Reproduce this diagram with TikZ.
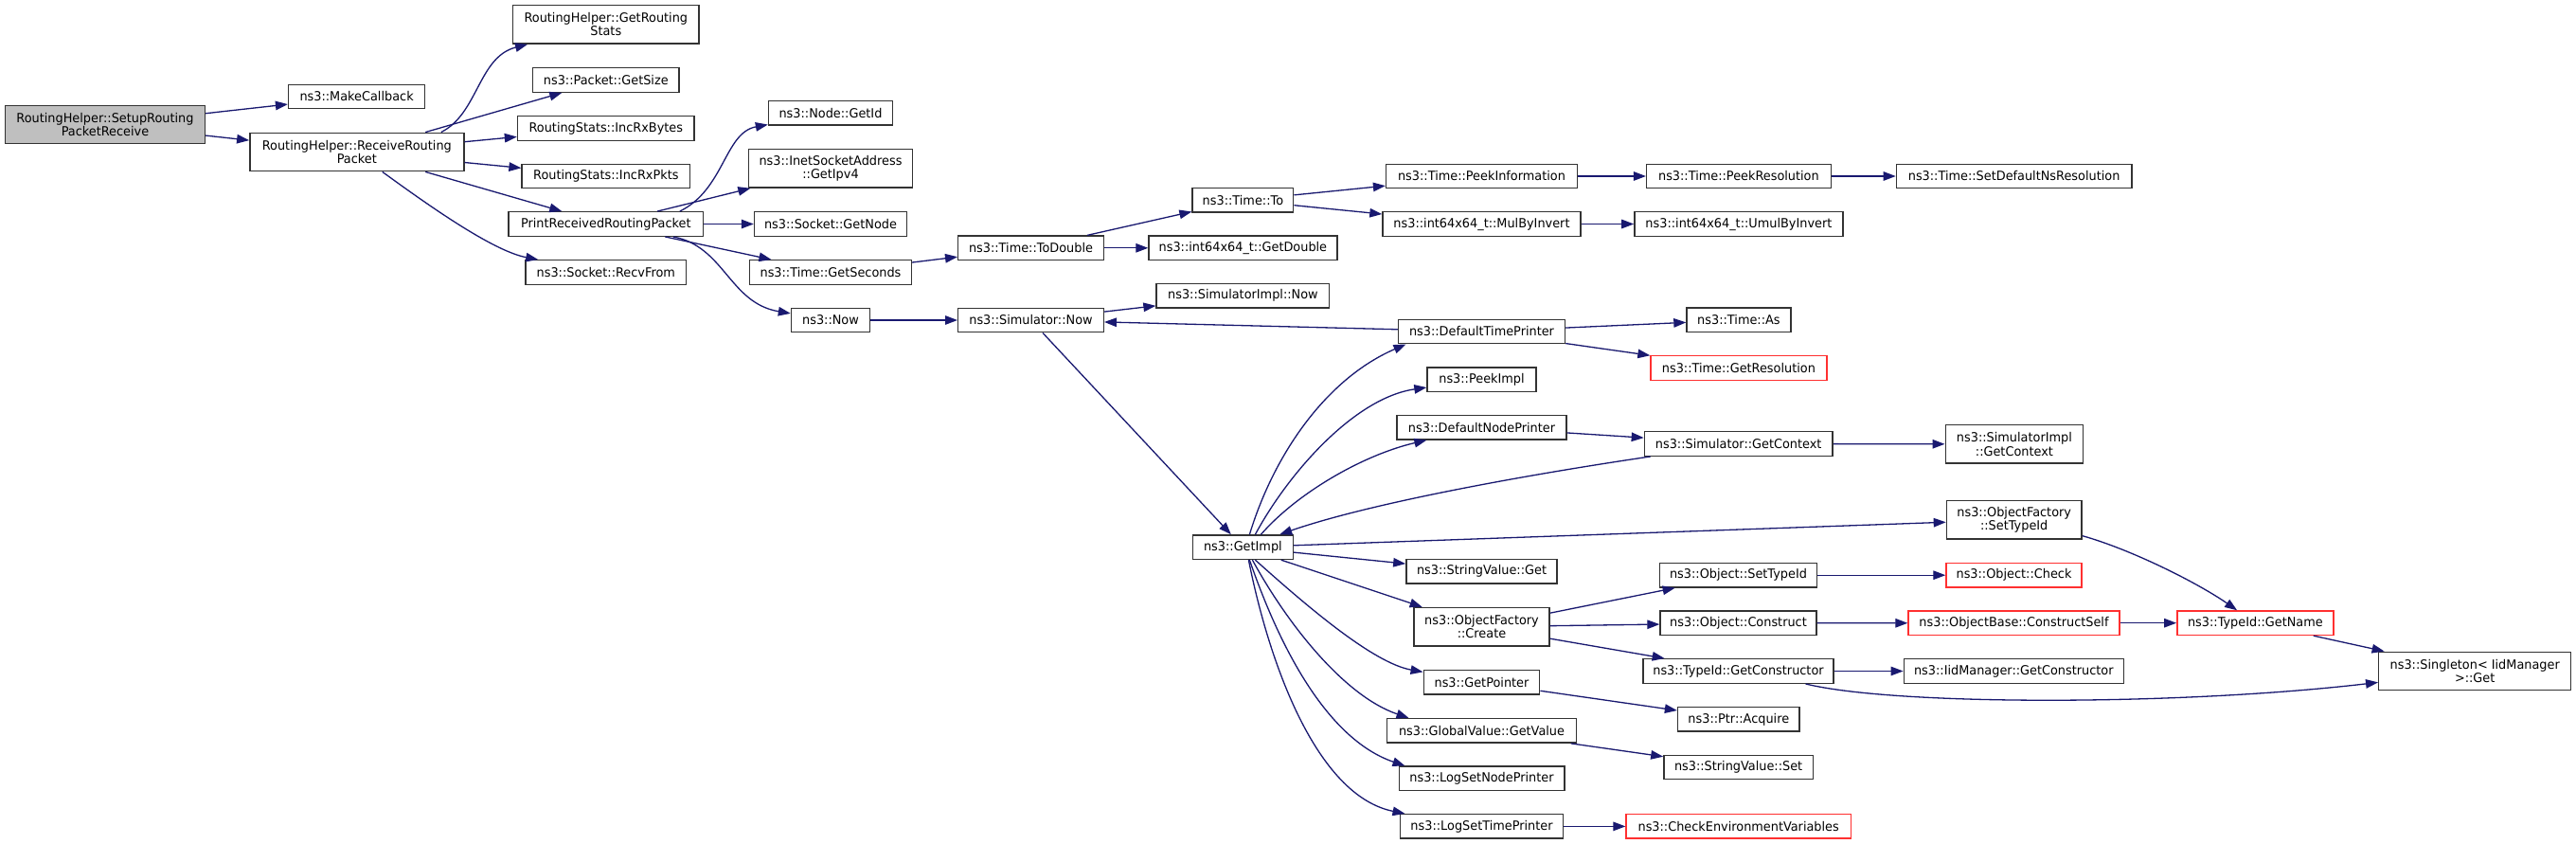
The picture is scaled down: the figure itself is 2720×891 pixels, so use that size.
\documentclass[tikz,border=0pt]{standalone}
\usepackage{fontspec}
\usetikzlibrary{arrows.meta}
\newfontfamily\fnfont{DejaVu Sans}[FakeStretch=0.96]
\definecolor{FigNavy}{HTML}{191970}
\definecolor{FigRed}{HTML}{FF3030}
\definecolor{FigGray}{HTML}{BFBFBF}
\definecolor{FigLine}{HTML}{333333}
\begin{document}
\begin{tikzpicture}[x=1pt,y=-1pt,
  fn/.style={draw=FigLine,line width=1.4pt,fill=white,inner sep=0pt,minimum height=25.5pt,align=center,font=\fnfont\fontsize{13.4}{14.2}\selectfont},
  two/.style={minimum height=40.5pt},root/.style={fill=FigGray},miss/.style={draw=FigRed},
  call/.style={draw=FigNavy,line width=1.3pt,-{Triangle[length=13pt,width=9.5pt]}}]
  \fill[white] (0,0) rectangle (2720,891);\useasboundingbox (0,0) rectangle (2720,891);
  \node[fn,root,two,minimum width=211pt] (setup) at (111,131.5) {RoutingHelper::SetupRouting\\PacketReceive};
  \node[fn,minimum width=144pt] (mkcb) at (376.6,102) {ns3::MakeCallback};
  \node[fn,two,minimum width=226pt] (recv) at (376.8,160.5) {RoutingHelper::ReceiveRouting\\Packet};
  \node[fn,two,minimum width=196.5pt] (stats) at (639.8,25.9) {RoutingHelper::GetRouting\\Stats};
  \node[fn,minimum width=154.5pt] (size) at (639.8,84.5) {ns3::Packet::GetSize};
  \node[fn,minimum width=186.6pt] (bytes) at (639.8,135.5) {RoutingStats::IncRxBytes};
  \node[fn,minimum width=177.4pt] (pkts) at (639.8,186) {RoutingStats::IncRxPkts};
  \node[fn,minimum width=205.5pt] (print) at (639.8,236.5) {PrintReceivedRoutingPacket};
  \node[fn,minimum width=169.6pt] (recvfrom) at (639.8,287.5) {ns3::Socket::RecvFrom};
  \node[fn,minimum width=131pt] (nodeid) at (877,119.3) {ns3::Node::GetId};
  \node[fn,two,minimum width=173pt] (ipv4) at (877,177.8) {ns3::InetSocketAddress\\::GetIpv4};
  \node[fn,minimum width=161pt] (getnode) at (877,236.5) {ns3::Socket::GetNode};
  \node[fn,minimum width=170.6pt] (getsec) at (877,287.5) {ns3::Time::GetSeconds};
  \node[fn,minimum width=83pt] (now) at (877,338) {ns3::Now};
  \node[fn,minimum width=153.6pt] (todouble) at (1088.5,261.8) {ns3::Time::ToDouble};
  \node[fn,minimum width=153.6pt] (simnow) at (1088.5,338) {ns3::Simulator::Now};
  \node[fn,minimum width=106.7pt] (timeto) at (1312.4,211.3) {ns3::Time::To};
  \node[fn,minimum width=198.8pt] (getdouble) at (1312.4,261.8) {ns3::int64x64\_t::GetDouble};
  \node[fn,minimum width=182.7pt] (implnow) at (1312.4,312.3) {ns3::SimulatorImpl::Now};
  \node[fn,minimum width=105.8pt] (getimpl) at (1312.4,577.7) {ns3::GetImpl};
  \node[fn,minimum width=201.8pt] (peekinfo) at (1564.5,186) {ns3::Time::PeekInformation};
  \node[fn,minimum width=209pt] (mulinv) at (1564.5,236.5) {ns3::int64x64\_t::MulByInvert};
  \node[fn,minimum width=176pt] (dtp) at (1564.5,350) {ns3::DefaultTimePrinter};
  \node[fn,minimum width=115pt] (peekimpl) at (1564.5,400.7) {ns3::PeekImpl};
  \node[fn,minimum width=179pt] (dnp) at (1564.5,451.2) {ns3::DefaultNodePrinter};
  \node[fn,minimum width=159.3pt] (strget) at (1564.5,603.2) {ns3::StringValue::Get};
  \node[fn,two,minimum width=143pt] (create) at (1564.5,661.7) {ns3::ObjectFactory\\::Create};
  \node[fn,minimum width=122.5pt] (getptr) at (1564.5,720.4) {ns3::GetPointer};
  \node[fn,minimum width=200pt] (gvget) at (1564.5,771.4) {ns3::GlobalValue::GetValue};
  \node[fn,minimum width=174.6pt] (lognode) at (1564.5,821.9) {ns3::LogSetNodePrinter};
  \node[fn,minimum width=171.8pt] (logtime) at (1564.5,872.4) {ns3::LogSetTimePrinter};
  \node[fn,minimum width=194.6pt] (peekres) at (1835.9,186) {ns3::Time::PeekResolution};
  \node[fn,minimum width=220pt] (umul) at (1835.9,236.5) {ns3::int64x64\_t::UmulByInvert};
  \node[fn,minimum width=109.8pt] (timeas) at (1835.9,337.9) {ns3::Time::As};
  \node[fn,miss,minimum width=185.8pt] (getres) at (1835.9,388.5) {ns3::Time::GetResolution};
  \node[fn,minimum width=198.7pt] (getctx) at (1835.7,468.5) {ns3::Simulator::GetContext};
  \node[fn,minimum width=166.4pt] (objsettid) at (1835.5,607.2) {ns3::Object::SetTypeId};
  \node[fn,minimum width=165pt] (construct) at (1835.5,657.9) {ns3::Object::Construct};
  \node[fn,minimum width=201pt] (getcons) at (1835.5,708.5) {ns3::TypeId::GetConstructor};
  \node[fn,minimum width=128.5pt] (acquire) at (1835.8,759.3) {ns3::Ptr::Acquire};
  \node[fn,minimum width=157.5pt] (strset) at (1835.6,810) {ns3::StringValue::Set};
  \node[fn,miss,minimum width=237.3pt] (checkenv) at (1835.7,872.4) {ns3::CheckEnvironmentVariables};
  \node[fn,minimum width=248.4pt] (setdef) at (2126.6,186) {ns3::Time::SetDefaultNsResolution};
  \node[fn,two,minimum width=145.4pt] (implctx) at (2126.9,468.9) {ns3::SimulatorImpl\\::GetContext};
  \node[fn,two,minimum width=142.7pt] (ofsettid) at (2126.7,548.7) {ns3::ObjectFactory\\::SetTypeId};
  \node[fn,miss,minimum width=143pt] (check) at (2126.5,607.2) {ns3::Object::Check};
  \node[fn,miss,minimum width=223pt] (cself) at (2126.5,657.7) {ns3::ObjectBase::ConstructSelf};
  \node[fn,minimum width=232pt] (iidcons) at (2126.3,708.5) {ns3::IidManager::GetConstructor};
  \node[fn,miss,minimum width=165.2pt] (getname) at (2381.4,657.7) {ns3::TypeId::GetName};
  \node[fn,two,minimum width=203pt] (single) at (2613.2,708.5) {ns3::Singleton< IidManager\\>::Get};
  \foreach \a/\b in {setup/mkcb,setup/recv,recv/size,recv/bytes,recv/pkts,recv/print,print/ipv4,print/getnode,
    print/getsec,getsec/todouble,todouble/timeto,todouble/getdouble,timeto/peekinfo,timeto/mulinv,peekinfo/peekres,
    peekres/setdef,mulinv/umul,now/simnow,simnow/implnow,simnow/getimpl,dtp/simnow,dtp/timeas,dtp/getres,dnp/getctx,
    getctx/implctx,getimpl/ofsettid,getimpl/strget,getimpl/create,create/objsettid,create/construct,create/getcons,
    objsettid/check,construct/cself,cself/getname,getname/single,getcons/iidcons,getptr/acquire,gvget/strset,logtime/checkenv}
    {\draw[call] (\a) -- (\b);}
  \draw[call] ([xshift=89pt]recv.north) .. controls (505,120) and (505,60) .. (stats);
  \draw[call] ([xshift=27pt]recv.south) .. controls (450,215) and (520,265) .. (recvfrom);
  \draw[call] ([xshift=78pt]print.north) .. controls (765,200) and (765,140) .. (nodeid);
  \draw[call] ([xshift=71pt]print.south) .. controls (765,260) and (770,320) .. (now);
  \draw[call] ([xshift=7pt]getimpl.north) .. controls (1345,480) and (1400,400) .. ([xshift=-80pt]dtp.south);
  \draw[call] ([xshift=13pt]getimpl.north) .. controls (1360,500) and (1430,420) .. (peekimpl);
  \draw[call] ([xshift=19pt]getimpl.north) .. controls (1370,520) and (1440,480) .. (dnp);
  \draw[call] ([xshift=-93pt]getctx.south) .. controls (1620,500) and (1450,530) .. (getimpl);
  \draw[call] ([xshift=13pt]getimpl.south) .. controls (1380,640) and (1450,700) .. (getptr);
  \draw[call] ([xshift=10pt]getimpl.south) .. controls (1360,660) and (1420,735) .. ([xshift=-77pt]gvget.north);
  \draw[call] ([xshift=7pt]getimpl.south) .. controls (1350,680) and (1400,780) .. ([xshift=-81pt]lognode.north);
  \draw[call] ([xshift=6pt]getimpl.south) .. controls (1340,700) and (1390,840) .. ([xshift=-81pt]logtime.north);
  \draw[call] ([yshift=4pt]ofsettid.south east) .. controls (2250,580) and (2320,615) .. (getname);
  \draw[call] ([xshift=71pt]getcons.south) .. controls (2000,745) and (2300,745) .. (single);
\end{tikzpicture}
\end{document}
